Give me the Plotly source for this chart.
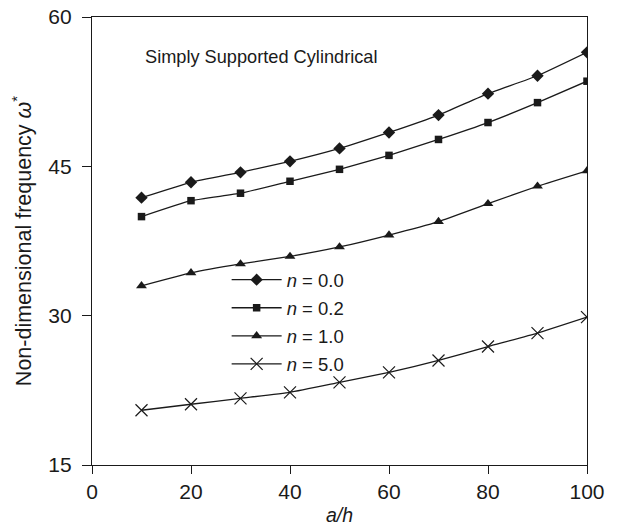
import plotly.graph_objects as go

a_h = [10, 20, 30, 40, 50, 60, 70, 80, 90, 100]
n_00 = [41.85, 43.4, 44.4, 45.5, 46.8, 48.4, 50.15, 52.3, 54.1, 56.45]
n_02 = [39.95, 41.55, 42.3, 43.5, 44.7, 46.1, 47.7, 49.4, 51.4, 53.55]
n_10 = [33.0, 34.3, 35.2, 35.95, 36.9, 38.1, 39.45, 41.25, 43.0, 44.55]
n_50 = [20.5, 21.1, 21.7, 22.3, 23.3, 24.3, 25.5, 26.9, 28.25, 29.85]

series = [
    ("<i>n</i> = 0.0", n_00, "diamond", 9.5, 0),
    ("<i>n</i> = 0.2", n_02, "square", 7.5, 0),
    ("<i>n</i> = 1.0", n_10, "triangle-up", 9.5, 0),
    ("<i>n</i> = 5.0", n_50, "x-thin", 12, 1.2),
]

ink = "#1a1a1a"
font = "Liberation Sans, Arial, sans-serif"

fig = go.Figure()
for i, (name, ys, sym, sz, lw) in enumerate(series):
    fig.add_trace(go.Scatter(
        x=a_h, y=ys, name=name, mode="lines+markers",
        line=dict(color=ink, width=1.3, shape="spline", smoothing=0.4),
        marker=dict(symbol=sym, size=sz, color=ink,
                    line=dict(color=ink, width=lw)),
        legendgroup=str(i),
    ))

fig.add_annotation(
    text="Simply Supported Cylindrical", xref="paper", yref="paper",
    x=0.103, y=0.911, xanchor="left", yanchor="middle", showarrow=False,
    font=dict(family=font, size=18.2, color=ink),
)

fig.update_layout(
    width=625, height=530,
    margin=dict(l=92, r=38, t=17, b=65),
    paper_bgcolor="white", plot_bgcolor="white",
    font=dict(family=font, color=ink),
    showlegend=True,
    legend=dict(
        x=0.272, y=0.455, xanchor="left", yanchor="top",
        bgcolor="rgba(0,0,0,0)", borderwidth=0,
        font=dict(family=font, size=18.5, color=ink),
        traceorder="grouped", tracegroupgap=1, itemwidth=50,
    ),
    xaxis=dict(
        range=[0, 100], tickvals=[0, 20, 40, 60, 80, 100],
        showgrid=False, zeroline=False, automargin=False,
        showline=True, linecolor=ink, linewidth=1.3, mirror=True,
        ticks="outside", ticklen=8, tickcolor=ink, tickwidth=1.3,
        tickfont=dict(family=font, size=21, color=ink),
        title=dict(text="<i>a/h</i>", font=dict(family=font, size=19.5, color=ink), standoff=6),
    ),
    yaxis=dict(
        range=[15, 60], tickvals=[15, 30, 45, 60],
        showgrid=False, zeroline=False, automargin=False,
        showline=True, linecolor=ink, linewidth=1.3, mirror=True,
        ticks="outside", ticklen=9, tickcolor=ink, tickwidth=1.3,
        ticklabelstandoff=6,
        tickfont=dict(family=font, size=21, color=ink),
        title=dict(text="Non-dimensional frequency <i>ω</i><sup>*</sup>",
                   font=dict(family=font, size=21.5, color=ink), standoff=10),
    ),
)

fig.write_html("out.html", config={"displayModeBar": False},
               post_script="document.body.style.margin='0';")
